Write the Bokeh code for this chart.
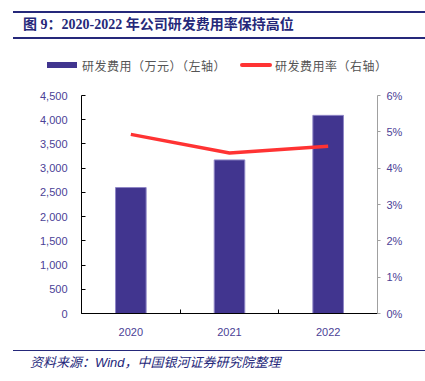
from bokeh.plotting import figure
from bokeh.models import (ColumnDataSource, Range1d, LinearAxis, FixedTicker,
                          NumeralTickFormatter, Div)
from bokeh.layouts import column
from bokeh.embed import file_html
from bokeh.resources import INLINE

# ---- data ----
years = ["2020", "2021", "2022"]
rd_expense = [2600, 3170, 4090]          # 万元 (left axis)
rd_rate = [0.0493, 0.0442, 0.0460]       # 研发费用率 (right axis)
left_ticks = [0, 500, 1000, 1500, 2000, 2500, 3000, 3500, 4000, 4500]
right_ticks = [0.0, 0.01, 0.02, 0.03, 0.04, 0.05, 0.06]
title_text = "图 9：2020-2022 年公司研发费用率保持高位"
source_text = "资料来源：Wind，中国银河证券研究院整理"
bar_label = "研发费用（万元）（左轴）"
line_label = "研发费用率（右轴）"

NAVY = "#25287A"
BAR = "#41358F"
BAR_EDGE = "#8F86C6"
TICK = "#4B4196"
RED = "#FF3333"
LEG_TXT = "#555555"
W = 425

xs = [i + 0.5 for i in range(len(years))]
src = ColumnDataSource(dict(x=xs, year=years, exp=rd_expense, rate=rd_rate))


def box(style, inner=""):
    return f'<div style="position:absolute; white-space:nowrap; {style}">{inner}</div>'


# ---- title + legend ----
leg_font = "font:12px 'Noto Sans CJK SC', sans-serif; letter-spacing:0.5px;"
head_html = (
    '<div style="position:relative; width:425px; height:80px; margin:0; padding:0;">'
    + box(f"left:13px; top:11px; width:402px; height:24px; line-height:24px; padding-left:10px;"
          f"border-top:2px solid {NAVY}; border-bottom:2px solid {NAVY}; box-sizing:content-box;"
          f"color:{NAVY}; font:bold 14px 'Liberation Serif', 'Noto Sans CJK SC', serif;", title_text)
    + box(f"left:47px; top:62px; width:30px; height:6px; background:{BAR};")
    + box(f"left:82px; top:57px; line-height:16px; color:{LEG_TXT}; {leg_font}", bar_label)
    + box(f"left:240px; top:63px; width:32px; height:4px; border-radius:2px; background:{RED};")
    + box(f"left:275px; top:57px; line-height:16px; color:{LEG_TXT}; {leg_font}", line_label)
    + '</div>')
head_div = Div(width=W, height=80, margin=0, text=head_html)

# ---- main chart ----
p = figure(width=W, height=260, x_range=Range1d(0, 3), y_range=Range1d(0, 4500),
           output_backend="svg", toolbar_location=None,
           min_border_left=81, min_border_right=48, min_border_top=15, min_border_bottom=27)
p.grid.visible = False
p.outline_line_color = None
p.extra_y_ranges = {"pct": Range1d(0, 0.06)}

p.vbar(x="x", top="exp", width=0.31, source=src, fill_color=BAR,
       line_color=BAR_EDGE, line_width=1)
p.line(x="x", y="rate", source=src, y_range_name="pct", line_color=RED, line_width=3.5)

# x axis
xa = p.xaxis[0]
xa.ticker = FixedTicker(ticks=xs, minor_ticks=[0, 1, 2, 3])
xa.major_label_overrides = {x: y for x, y in zip(xs, years)}
xa.major_tick_line_color = None
xa.minor_tick_in = 4
xa.minor_tick_out = 0
xa.minor_tick_line_color = "black"
xa.axis_line_color = "black"
xa.major_label_text_font = "Liberation Sans"
xa.major_label_text_font_size = "11px"
xa.major_label_text_color = TICK
xa.major_label_standoff = 8

# left axis
ya = p.yaxis[0]
ya.ticker = FixedTicker(ticks=left_ticks)
ya.formatter = NumeralTickFormatter(format="0,0")
ya.minor_tick_line_color = None
ya.major_tick_in = 4
ya.major_tick_out = 0
ya.axis_line_color = "black"
ya.major_tick_line_color = "black"
ya.major_label_text_font = "Liberation Sans"
ya.major_label_text_font_size = "11px"
ya.major_label_text_color = TICK
ya.major_label_standoff = 14

# right axis
ra = LinearAxis(y_range_name="pct", ticker=FixedTicker(ticks=right_ticks),
                formatter=NumeralTickFormatter(format="0%"))
ra.minor_tick_line_color = None
ra.major_tick_in = 0
ra.major_tick_out = 3
ra.axis_line_color = "#A0A0A0"
ra.major_tick_line_color = "#A0A0A0"
ra.major_label_text_font = "Liberation Sans"
ra.major_label_text_font_size = "11px"
ra.major_label_text_color = TICK
ra.major_label_standoff = 6
p.add_layout(ra, "right")

# ---- source ----
foot_html = (
    '<div style="position:relative; width:425px; height:41px; margin:0; padding:0;">'
    + box(f"left:13px; top:10px; width:412px; height:0; border-top:1.5px solid {NAVY};")
    + box(f"left:30px; top:12px; line-height:22px; color:{NAVY};"
          "font:italic 13px 'Liberation Sans', 'Noto Sans CJK SC', sans-serif;", source_text)
    + '</div>')
foot_div = Div(width=W, height=41, margin=0, text=foot_html)

layout = column(head_div, p, foot_div, spacing=0)
open("out.html", "w").write(file_html(layout, INLINE))
